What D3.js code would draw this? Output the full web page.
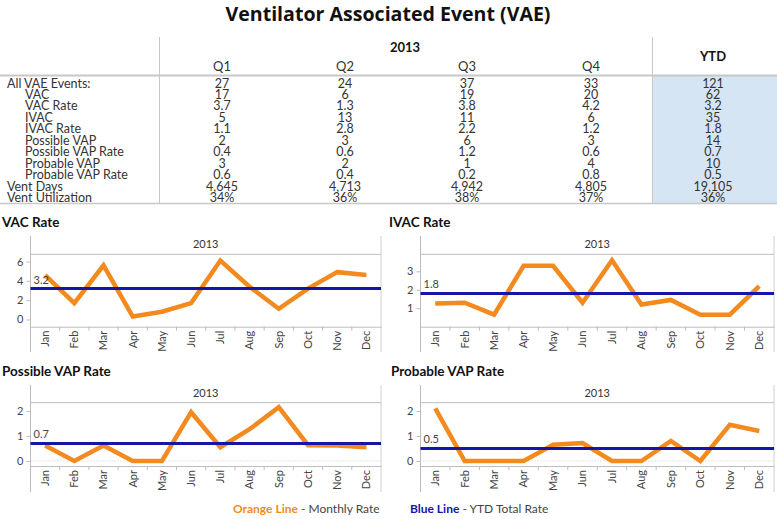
<!DOCTYPE html>
<html><head><meta charset="utf-8">
<script src="https://cdn.jsdelivr.net/npm/d3@7"></script>
<style>
html,body{margin:0;padding:0;background:#fff;}
svg{display:block;font-family:Lato,"Open Sans",sans-serif;}
</style></head>
<body>
<svg id="chart" width="777" height="519"></svg>
<script>
// ---------- DATA ----------
const quarters = ["Q1", "Q2", "Q3", "Q4"];
const rowLabels = ["All VAE Events:", "VAC", "VAC Rate", "IVAC", "IVAC Rate", "Possible VAP",
  "Possible VAP Rate", "Probable VAP", "Probable VAP Rate", "Vent Days", "Vent Utilization"];
const rowIndent = [false, true, true, true, true, true, true, true, true, false, false];
const q1Values = ["27", "17", "3.7", "5", "1.1", "2", "0.4", "3", "0.6", "4,645", "34%"];
const q2Values = ["24", "6", "1.3", "13", "2.8", "3", "0.6", "2", "0.4", "4,713", "36%"];
const q3Values = ["37", "19", "3.8", "11", "2.2", "6", "1.2", "1", "0.2", "4,942", "38%"];
const q4Values = ["33", "20", "4.2", "6", "1.2", "3", "0.6", "4", "0.8", "4,805", "37%"];
const ytdValues = ["121", "62", "3.2", "35", "1.8", "14", "0.7", "10", "0.5", "19,105", "36%"];

const months = ["Jan", "Feb", "Mar", "Apr", "May", "Jun", "Jul", "Aug", "Sep", "Oct", "Nov", "Dec"];
const vacRate = [4.6, 1.7, 5.6, 0.3, 0.8, 1.7, 6.1, 3.4, 1.1, 3.2, 4.9, 4.6];
const ivacRate = [1.25, 1.3, 0.65, 3.3, 3.3, 1.3, 3.6, 1.2, 1.45, 0.65, 0.65, 2.2];
const possibleVapRate = [0.62, 0.0, 0.62, 0.0, 0.0, 1.95, 0.55, 1.27, 2.15, 0.63, 0.62, 0.55];
const probableVapRate = [2.1, 0.0, 0.0, 0.0, 0.65, 0.72, 0.0, 0.0, 0.8, 0.0, 1.45, 1.2];
const ytdRate = [3.2, 1.8, 0.7, 0.5];
const chartTitles = ["VAC Rate", "IVAC Rate", "Possible VAP Rate", "Probable VAP Rate"];
const yTicks = [[0, 2, 4, 6], [1, 2, 3], [0, 1, 2], [0, 1, 2]];
const yDomains = [[-0.75, 6.75], [0, 3.92], [-0.2, 2.33], [-0.2, 2.33]];
const yearLabel = "2013";

// ---------- DRAW ----------
const svg = d3.select("#chart");
const ORANGE = "#f28a1f", BLUE = "#1515a8", TXT = "#333";

svg.append("text").attr("x", 388).attr("y", 21).attr("text-anchor", "middle")
  .attr("font-weight", "bold").attr("font-size", 19).attr("fill", "#111")
  .attr("font-family", "'Open Sans',sans-serif")
  .attr("textLength", 325).attr("lengthAdjust", "spacingAndGlyphs")
  .text("Ventilator Associated Event (VAE)");

// Table
const FS = 12.5;
const tbl = svg.append("g");
const colX = d3.scaleOrdinal().domain(quarters.concat(["YTD"])).range([222, 345, 467, 591, 713]);
const rowY = d3.scaleLinear().domain([0, rowLabels.length - 1]).range([83.3, 197.7]);
tbl.append("rect").attr("x", 653).attr("y", 76).attr("width", 124).attr("height", 127).attr("fill", "#d5e5f3");
tbl.append("line").attr("x1", 0).attr("x2", 777).attr("y1", 75.5).attr("y2", 75.5).attr("stroke", "#c8c8c8").attr("stroke-width", 2);
tbl.append("line").attr("x1", 0).attr("x2", 777).attr("y1", 203.5).attr("y2", 203.5).attr("stroke", "#c8c8c8").attr("stroke-width", 1.5);
tbl.append("line").attr("x1", 159.5).attr("x2", 159.5).attr("y1", 37).attr("y2", 204).attr("stroke", "#c8c8c8");
tbl.append("line").attr("x1", 652.5).attr("x2", 652.5).attr("y1", 37).attr("y2", 204).attr("stroke", "#c8c8c8");
tbl.append("text").attr("x", 405).attr("y", 52).attr("text-anchor", "middle").attr("font-weight", "bold")
  .attr("font-size", 13).attr("fill", "#111").text(yearLabel);
tbl.append("text").attr("x", 713).attr("y", 61).attr("text-anchor", "middle").attr("font-weight", "bold")
  .attr("font-size", 13).attr("fill", "#111").text("YTD");
tbl.selectAll(".qh").data(quarters).join("text").attr("x", d => colX(d)).attr("y", 71)
  .attr("text-anchor", "middle").attr("font-size", 13).attr("fill", TXT).text(d => d);
tbl.selectAll(".rl").data(rowLabels).join("text")
  .attr("x", (d, i) => rowIndent[i] ? 25 : 7).attr("y", (d, i) => rowY(i) + 4.3)
  .attr("font-size", FS).attr("fill", TXT)
  .attr("textLength", d => d.length * 0).attr("textLength", null)
  .text(d => d);
const cols = [[quarters[0], q1Values], [quarters[1], q2Values], [quarters[2], q3Values], [quarters[3], q4Values], ["YTD", ytdValues]];
cols.forEach(([k, vals]) => {
  tbl.append("g").selectAll("text").data(vals).join("text")
    .attr("x", colX(k)).attr("y", (d, i) => rowY(i) + 4.3)
    .attr("text-anchor", "middle").attr("font-size", FS).attr("fill", TXT).text(d => d);
});

// Charts
const panels = [
  {x0: 30.5, x1: 381, titleX: 2, titleY: 227, top: 236, head: 254.3, bottom: 326.7, end: 352, data: vacRate, zeroLine: false},
  {x0: 420.5, x1: 774, titleX: 389, titleY: 227, top: 236, head: 254.3, bottom: 326.7, end: 352, data: ivacRate, zeroLine: false},
  {x0: 30.5, x1: 381, titleX: 2, titleY: 376, top: 385, head: 402.7, bottom: 466, end: 492, data: possibleVapRate, zeroLine: true},
  {x0: 420.5, x1: 774, titleX: 391, titleY: 376, top: 385, head: 402.7, bottom: 466, end: 492, data: probableVapRate, zeroLine: true}
];

panels.forEach((p, idx) => {
  const g = svg.append("g");
  const x = d3.scaleBand().domain(months).range([p.x0, p.x1]);
  const y = d3.scaleLinear().domain(yDomains[idx]).range([p.bottom, p.head]);
  g.append("text").attr("x", p.titleX).attr("y", p.titleY).attr("font-weight", "bold")
    .attr("font-size", 13.5).attr("fill", "#111").text(chartTitles[idx]);
  g.append("line").attr("x1", p.x0).attr("x2", p.x0).attr("y1", p.top).attr("y2", p.end).attr("stroke", "#bdbdbd");
  g.append("line").attr("x1", p.x1).attr("x2", p.x1).attr("y1", p.top).attr("y2", p.end).attr("stroke", "#d0d0d0");
  g.append("line").attr("x1", p.x0).attr("x2", p.x1).attr("y1", p.head).attr("y2", p.head).attr("stroke", "#bdbdbd");
  g.append("text").attr("x", (p.x0 + p.x1) / 2).attr("y", p.head - 6).attr("text-anchor", "middle")
    .attr("font-size", 11).attr("fill", TXT).text(yearLabel);
  if (p.zeroLine) {
    g.append("line").attr("x1", p.x0).attr("x2", p.x1).attr("y1", y(0)).attr("y2", y(0))
      .attr("stroke", "#c8c8c8").attr("stroke-dasharray", "1,2");
  }
  const ya = d3.axisLeft(y).tickValues(yTicks[idx]).tickSize(4).tickPadding(3).tickFormat(d3.format("d"));
  const yg = g.append("g").attr("transform", `translate(${p.x0},0)`).call(ya);
  yg.select(".domain").remove();
  yg.selectAll("line").attr("stroke", "#bdbdbd");
  yg.selectAll("text").attr("font-size", 11).attr("fill", "#444").attr("font-family", "Lato,sans-serif");
  const xa = d3.axisBottom(x).tickSize(0).tickPadding(0);
  const xg = g.append("g").attr("transform", `translate(0,${p.bottom})`).call(xa);
  xg.select(".domain").attr("stroke", "#bdbdbd");
  xg.selectAll(".tick text").attr("transform", "rotate(-90)").attr("text-anchor", "end")
    .attr("x", -4).attr("y", 0).attr("dy", "0.35em").attr("font-size", 11).attr("fill", "#444")
    .attr("font-family", "Lato,sans-serif");
  g.append("g").selectAll("line").data(months.slice(1)).join("line")
    .attr("x1", d => x(d)).attr("x2", d => x(d)).attr("y1", p.bottom).attr("y2", p.bottom + 4)
    .attr("stroke", "#bdbdbd");
  g.append("path").datum(p.data)
    .attr("d", d3.line().x((d, i) => x(months[i]) + x.bandwidth() / 2).y(d => y(d)))
    .attr("fill", "none").attr("stroke", ORANGE).attr("stroke-width", 4.5).attr("stroke-linejoin", "miter");
  g.append("line").attr("x1", p.x0).attr("x2", p.x1).attr("y1", y(ytdRate[idx])).attr("y2", y(ytdRate[idx]))
    .attr("stroke", BLUE).attr("stroke-width", 3);
  g.append("text").attr("x", p.x0 + 3).attr("y", y(ytdRate[idx]) - 5).attr("font-size", 11)
    .attr("fill", "#444").text(d3.format(".1f")(ytdRate[idx]));
});

// Legend
const lg = svg.append("g").attr("font-size", 12);
const t1 = lg.append("text").attr("x", 233).attr("y", 513);
t1.append("tspan").attr("font-weight", "bold").attr("fill", ORANGE).text("Orange Line");
t1.append("tspan").attr("fill", "#444").text(" - Monthly Rate");
const t2 = lg.append("text").attr("x", 410).attr("y", 513);
t2.append("tspan").attr("font-weight", "bold").attr("fill", BLUE).text("Blue Line");
t2.append("tspan").attr("fill", "#444").text(" - YTD Total Rate");
</script>
</body></html>
